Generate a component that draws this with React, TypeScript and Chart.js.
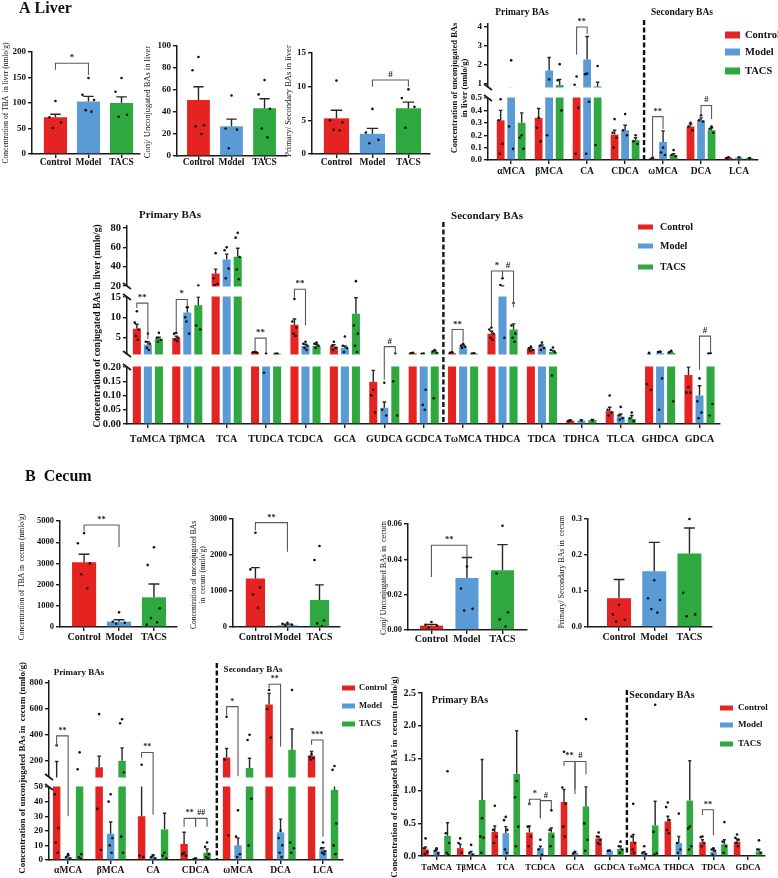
import React, { useEffect, useRef } from 'react';
import { Chart, registerables, LinearScale } from 'chart.js';

Chart.register(...registerables);

const SERIF = '"Liberation Serif", "Times New Roman", serif';
Chart.defaults.font.family = SERIF;

const PAGE_W = 778;
const PAGE_H = 878;
const RED = '#e52421';
const BLUE = '#5b9bd5';
const GREEN = '#2fa93f';
const GROUP_COLORS = [RED, BLUE, GREEN];
const GROUPS = ['Control', 'Model', 'TACS'];
const AXIS = '#1a1a1a';
const TICK_LEN = 4;
const Y_W = 28;
const DOT_R = 1.3;
const JITTER = [0, -0.26, 0.24, -0.12, 0.13, -0.3, 0.3];

// ---------- A: liver ----------
const liverTbaMean = [72, 103, 100];
const liverTbaSem = [6, 10, 12];
const liverTbaDots = [[104, 72, 62, 51], [149, 116, 106, 86, 83], [149, 122, 77, 73]];
const liverTbaTicks = [0, 50, 100, 150, 200];

const liverConjRatioMean = [51, 27, 43.5];
const liverConjRatioSem = [12, 6.5, 8.5];
const liverConjRatioDots = [[90, 78, 28, 27, 20], [55, 25, 24, 7], [69, 56, 43, 25, 17]];
const liverConjRatioTicks = [0, 20, 40, 60, 80, 100];

const liverPrimSecMean = [5.3, 3.0, 6.8];
const liverPrimSecSem = [1.2, 0.8, 0.9];
const liverPrimSecDots = [[10.9, 5.0, 4.7, 3.6, 3.5], [6.7, 3.2, 2.1, 1.6], [9.6, 8.3, 7.0, 3.9]];
const liverPrimSecTicks = [0, 5, 10, 15];

const liverUnconjCats = ['αMCA', 'βMCA', 'CA', 'CDCA', 'ωMCA', 'DCA', 'LCA'];
const liverUnconjControl = [0.32, 0.34, 0.7, 0.205, 0.01, 0.27, 0.02];
const liverUnconjModel = [0.7, 1.72, 2.3, 0.24, 0.145, 0.32, 0.02];
const liverUnconjTacs = [0.3, 0.95, 0.88, 0.16, 0.04, 0.24, 0.015];
const liverUnconjControlSem = [0.08, 0.075, 0.1, 0.035, 0.005, 0.02, 0.003];
const liverUnconjModelSem = [0.1, 0.68, 1.2, 0.04, 0.09, 0.02, 0.003];
const liverUnconjTacsSem = [0.08, 0.3, 0.22, 0.02, 0.01, 0.02, 0.003];
const liverUnconjControlDots = [[0.49, 0.32, 0.13, 0.05], [0.34, 0.26, 0.15], [1.4, 0.97, 0.42, 0.05], [0.33, 0.22, 0.18, 0.1], [0.02, 0.005], [0.3, 0.27, 0.24], [0.02, 0.015]];
const liverUnconjModelDots = [[2.25, 0.27, 0.09], [1.25, 0.2], [1.55, 1.52, 0.47, 0.05], [0.37, 0.24, 0.2], [0.1, 0.06, 0.04], [0.36, 0.32, 0.31], [0.02]];
const liverUnconjTacsDots = [[0.2, 0.18, 0.09], [2.05, 1.2, 0.4], [1.95, 0.12], [0.2, 0.15, 0.13], [0.08, 0.04, 0.03], [0.27, 0.25, 0.22], [0.015]];
const liverUnconjTicks = [0, 0.1, 0.2, 0.3, 0.4, 0.5, 1, 2, 3, 4];
const liverUnconjTickLabels = ['0.0', '0.1', '0.2', '0.3', '0.4', '0.5', '1', '2', '3', '4'];

const liverConjCats = ['TαMCA', 'TβMCA', 'TCA', 'TUDCA', 'TCDCA', 'GCA', 'GUDCA', 'GCDCA', 'TωMCA', 'THDCA', 'TDCA', 'TDHCA', 'TLCA', 'GHDCA', 'GDCA'];
const liverConjControl = [7.2, 4.9, 33, 1.4, 8.2, 2.8, 0.148, 1.15, 1.2, 6.0, 2.2, 0.012, 0.045, 0.9, 0.172];
const liverConjModel = [3.3, 11.2, 47.5, 0.6, 3.0, 2.5, 0.057, 0.8, 2.8, 17, 2.7, 0.012, 0.026, 1.2, 0.1];
const liverConjTacs = [4.7, 13, 50.3, 1.05, 3.0, 10.9, 0.5, 1.5, 1.1, 7.0, 1.5, 0.014, 0.018, 1.3, 0.5];
const liverConjControlSem = [1.1, 0.5, 4.5, 0.15, 1.4, 0.5, 0.04, 0.1, 0.1, 0.6, 0.3, 0.002, 0.014, 0.1, 0.03];
const liverConjModelSem = [0.7, 1.3, 5.5, 0.2, 0.4, 0.5, 0.02, 0.1, 0.5, 3, 0.5, 0.002, 0.009, 0.3, 0.034];
const liverConjTacsSem = [0.4, 2, 8.7, 0.05, 0.4, 3.9, 0.1, 0.3, 0.05, 1.4, 0.4, 0.002, 0.012, 0.2, 0.1];
const liverConjControlDots = [[11.5, 8.7, 7, 5.5, 4.5], [6.2, 6, 5, 4.5, 4.2], [54, 28, 22, 21], [1.5, 1.4, 1.3], [14.5, 9, 7.5, 6, 5.5], [4, 3, 2.5, 2], [0.12, 0.1, 0.04], [1.3, 1.2], [1.5, 1.3], [7.5, 7, 6, 5, 4.5], [2.8, 2.4, 2, 1.8], [0.012, 0.01], [0.1, 0.05, 0.04, 0.03], [1.3, 0.14, 0.12], [0.13, 0.11, 0.11]];
const liverConjModelDots = [[6, 4, 3.5, 2.5, 2], [12.5, 10, 6, 9], [60, 57, 38, 28], [1.1, 0.18], [4, 3.5, 3, 2.5, 2], [5.3, 3, 2.5, 1.5], [0.145, 0.05, 0.03], [1.1, 1.05, 0.12, 0.067, 0.05], [3.5, 3, 2.8, 2.5], [28, 21, 5], [3.8, 3, 2.5, 2], [0.012], [0.06, 0.03, 0.02, 0.015], [1.6, 1.5, 0.16, 0.05], [0.16, 0.08, 0.04, 0.02]];
const liverConjTacsDots = [[6.2, 5, 4.5, 4], [20.5, 8, 7], [75, 70, 50, 37, 27], [1.1, 1.05], [3.8, 3.5, 3, 2.5], [25, 8, 6, 3, 1.5], [1.1, 0.15, 0.03], [2.0, 1.6, 1.3, 0.09], [1.2, 1.1], [13.5, 8, 6, 5, 4], [2.6, 2, 1.5, 0.17], [0.012], [0.04, 0.02, 0.01], [1.8, 1.4, 0.08], [1.2, 1.1, 0.07, 0.03]];
const liverConjTicks = [0, 0.05, 0.1, 0.15, 0.2, 5, 10, 15, 20, 40, 60, 80];
const liverConjTickLabels = ['0.00', '0.05', '0.10', '0.15', '0.20', '5', '10', '15', '20', '40', '60', '80'];

// ---------- B: cecum ----------
const cecumTbaMean = [3050, 250, 1400];
const cecumTbaSem = [380, 90, 630];
const cecumTbaDots = [[4430, 3950, 3000, 2490, 1830], [690, 250, 200, 150], [3760, 2920, 880, 420, 220, 110]];
const cecumTbaTicks = [0, 1000, 2000, 3000, 4000, 5000];

const cecumUnconjTotalMean = [1350, 50, 750];
const cecumUnconjTotalSem = [300, 30, 420];
const cecumUnconjTotalDots = [[2620, 1600, 1100, 900, 530], [120, 90, 60, 40], [2250, 1860, 180, 100, 20]];
const cecumUnconjTotalTicks = [0, 1000, 2000, 3000];

const cecumConjRatioMean = [0.0025, 0.0295, 0.0338];
const cecumConjRatioSem = [0.0007, 0.0115, 0.0145];
const cecumConjRatioDots = [[0.0045, 0.003, 0.0025, 0.0015], [0.036, 0.0235, 0.012, 0.011], [0.059, 0.032, 0.01, 0.006, 0.002]];
const cecumConjRatioTicks = [0, 0.02, 0.04, 0.06];
const cecumConjRatioTickLabels = ['0.00', '0.02', '0.04', '0.06'];

const cecumPrimSecMean = [0.08, 0.155, 0.204];
const cecumPrimSecSem = [0.052, 0.08, 0.071];
const cecumPrimSecDots = [[0.062, 0.035, 0.02, 0.015], [0.13, 0.08, 0.075, 0.05, 0.04], [0.3, 0.095, 0.035, 0.03]];
const cecumPrimSecTicks = [0, 0.1, 0.2, 0.3];
const cecumPrimSecTickLabels = ['0.0', '0.1', '0.2', '0.3'];

const cecumUnconjCats = ['αMCA', 'βMCA', 'CA', 'CDCA', 'ωMCA', 'DCA', 'LCA'];
const cecumUnconjControl = [70, 150, 30, 11, 225, 635, 238];
const cecumUnconjModel = [2, 18, 2, 1, 10, 19, 7];
const cecumUnconjTacs = [55, 200, 21, 5, 144, 285, 48];
const cecumUnconjControlSem = [125, 85, 40, 8, 70, 85, 34];
const cecumUnconjModelSem = [1, 8, 1.5, 0.3, 5, 9, 1.5];
const cecumUnconjTacsSem = [15, 100, 11, 2.5, 76, 160, 20];
const cecumUnconjControlDots = [[320, 45, 22, 12, 5], [560, 35, 7], [170, 3, 2], [5, 4, 3], [540, 210, 17], [746, 600, 380], [250, 230, 220, 210]];
const cecumUnconjModelDots = [[4, 2, 1], [45, 40, 15, 10, 5], [3, 2, 1], [1, 0.5], [34, 16, 4, 2], [20, 15, 10, 5, 2], [12, 8, 6, 5, 4]];
const cecumUnconjTacsDots = [[265, 135, 4, 2, 1], [520, 490, 110, 16, 5], [5, 3, 1], [12, 9, 4, 2, 1], [400, 360, 42, 10], [746, 12, 8, 5], [160, 130, 25, 10, 4]];
const cecumUnconjTicks = [0, 10, 20, 30, 40, 50, 200, 400, 600, 800];

const cecumConjCats = ['TαMCA', 'TβMCA', 'TCA', 'TCDCA', 'GCA', 'GCDCA', 'TωMCA', 'THDCA', 'TDCA', 'GDCA'];
const cecumConjControl = [0.1, 0.12, 0.37, 0.36, 0.83, 0.27, 0.22, 0.53, 0.21, 0.22];
const cecumConjModel = [0.07, 0.045, 0.35, 0.12, 0.05, 0.08, 0.045, 0.2, 0.065, 0];
const cecumConjTacs = [0.31, 0.86, 1.26, 0.36, 0.76, 0.11, 0.47, 0.85, 0.18, 0.07];
const cecumConjControlSem = [0.04, 0.06, 0.09, 0.1, 0.19, 0.03, 0.11, 0.08, 0.04, 0.04];
const cecumConjModelSem = [0.03, 0.025, 0.1, 0.03, 0.02, 0.005, 0.02, 0.1, 0.05, 0];
const cecumConjTacsSem = [0.2, 0.62, 0.66, 0.07, 0.3, 0.04, 0.37, 0.61, 0.07, 0.035];
const cecumConjControlDots = [[0.27, 0.12, 0.06, 0.03], [0.27, 0.2, 0.05], [0.77, 0.4, 0.3, 0.2], [0.8, 0.45, 0.3, 0.15], [1.6, 1.05, 0.8, 0.45, 0.3], [0.36, 0.3, 0.25, 0.2, 0.18], [0.8, 0.3, 0.2, 0.1, 0.05], [0.82, 0.75, 0.55, 0.4, 0.35], [0.3, 0.29, 0.2, 0.15], [0.33, 0.28, 0.25, 0.2, 0.15]];
const cecumConjModelDots = [[0.12, 0.08, 0.04], [0.17, 0.05, 0.02], [0.6, 0.55, 0.4, 0.1, 0.05], [0.25, 0.1, 0.02], [0.06, 0.04], [0.085, 0.08], [0.15, 0.05, 0.03], [0.65, 0.2, 0.1, 0.05], [0.12, 0.1, 0.08, 0.02], []];
const cecumConjTacsDots = [[1.3, 0.35, 0.2, 0.05, 0.02], [0.58, 0.3, 0.28, 0.05], [1.15, 0.9, 0.45, 0.15], [0.7, 0.4, 0.3, 0.15], [2.1, 0.5, 0.25, 0.08], [0.22, 0.15, 0.1, 0.05], [2.32, 0.37, 0.04, 0.02], [0.45, 0.42, 0.15, 0.1], [0.52, 0.22, 0.15, 0.05], [0.24, 0.1, 0.05]];
const cecumConjTicks = [0, 0.5, 1, 1.5, 2, 2.5];
const cecumConjTickLabels = ['0.0', '0.5', '1.0', '1.5', '2.0', '2.5'];

// ---------- panel description ----------
type Seg = { v0: number; v1: number; p0: number; p1: number };
type Bracket = { a: [number, number]; b: [number, number]; top: number; legA: number; legB: number; text: string };
type Legend = { x: number; ys: number[]; w: number; h: number; textX: number; size: number };
type Label = { text: string; x: number; y: number; size: number; align?: CanvasTextAlign };

interface PanelSpec {
  id: string;
  box: { left: number; right: number; top: number; bottom: number };
  xMin: number;
  xMax: number;
  cats: string[];
  means: number[][];
  sems: number[][];
  dots: number[][][];
  colors: (string | string[])[];
  catPct: number;
  barPct: number;
  segs: Seg[];
  ticks: number[];
  tickLabels: string[];
  tickSize: number;
  xSize: number;
  xLabelY: number;
  yTitle: string[];
  yTitleX: number[];
  yTitleY: number;
  yTitleSize: number;
  yTitleWeight: string;
  brackets: Bracket[];
  bracketSize: number;
  dashX?: number;
  dashTop?: number;
  legend?: Legend;
  labels?: Label[];
}

const single = (mean: number[], sem: number[], dots: number[][]) => ({
  cats: GROUPS,
  means: [mean],
  sems: [sem],
  dots: [dots],
  colors: [GROUP_COLORS],
  barPct: 1,
});

const PANELS: PanelSpec[] = [
  {
    id: 'liverTba',
    box: { left: 32, right: 140, top: 52, bottom: 154 },
    xMin: -0.71, xMax: 2.56,
    ...single(liverTbaMean, liverTbaSem, liverTbaDots),
    catPct: 0.7,
    segs: [{ v0: 0, v1: 200, p0: 154, p1: 52 }],
    ticks: liverTbaTicks, tickLabels: liverTbaTicks.map(String),
    tickSize: 9, xSize: 9.5, xLabelY: 163,
    yTitle: ['Concentration of TBA  in liver (nmlo/g)'], yTitleX: [6], yTitleY: 103, yTitleSize: 7.5, yTitleWeight: 'normal',
    brackets: [{ a: [0, 0], b: [0, 1], top: 178, legA: 165, legB: 155, text: '*' }], bracketSize: 9,
    labels: [{ text: 'A Liver', x: 19, y: 9, size: 16, align: 'left' }],
  },
  {
    id: 'liverConjRatio',
    box: { left: 177, right: 287, top: 46, bottom: 156 },
    xMin: -0.65, xMax: 2.68,
    ...single(liverConjRatioMean, liverConjRatioSem, liverConjRatioDots),
    catPct: 0.69,
    segs: [{ v0: 0, v1: 100, p0: 156, p1: 46 }],
    ticks: liverConjRatioTicks, tickLabels: liverConjRatioTicks.map(String),
    tickSize: 9, xSize: 9.5, xLabelY: 163,
    yTitle: ['Conj/ Unconjugated BAs in liver'], yTitleX: [148], yTitleY: 102, yTitleSize: 8.5, yTitleWeight: 'normal',
    brackets: [], bracketSize: 9,
  },
  {
    id: 'liverPrimSec',
    box: { left: 312, right: 430, top: 53, bottom: 154 },
    xMin: -0.68, xMax: 2.6,
    ...single(liverPrimSecMean, liverPrimSecSem, liverPrimSecDots),
    catPct: 0.7,
    segs: [{ v0: 0, v1: 15, p0: 154, p1: 53 }],
    ticks: liverPrimSecTicks, tickLabels: liverPrimSecTicks.map(String),
    tickSize: 9, xSize: 9.5, xLabelY: 163,
    yTitle: ['Primary/ Secondary BAs in liver'], yTitleX: [289], yTitleY: 101, yTitleSize: 8.5, yTitleWeight: 'normal',
    brackets: [{ a: [0, 1], b: [0, 2], top: 11, legA: 10, legB: 10, text: '#' }], bracketSize: 9,
  },
  {
    id: 'liverUnconj',
    box: { left: 488, right: 758, top: 24, bottom: 160 },
    xMin: -0.61, xMax: 6.5,
    cats: liverUnconjCats,
    means: [liverUnconjControl, liverUnconjModel, liverUnconjTacs],
    sems: [liverUnconjControlSem, liverUnconjModelSem, liverUnconjTacsSem],
    dots: [liverUnconjControlDots, liverUnconjModelDots, liverUnconjTacsDots],
    colors: GROUP_COLORS,
    catPct: 0.83, barPct: 0.74,
    segs: [{ v0: 0, v1: 0.5, p0: 160, p1: 98 }, { v0: 0.85, v1: 4, p0: 87, p1: 27 }],
    ticks: liverUnconjTicks, tickLabels: liverUnconjTickLabels,
    tickSize: 9, xSize: 9.5, xLabelY: 172,
    yTitle: ['Concentration of unconjugated BAs', 'in liver (nmlo/g)'], yTitleX: [455, 465], yTitleY: 88, yTitleSize: 8.5, yTitleWeight: 'bold',
    brackets: [
      { a: [0, 2], b: [1, 2], top: 4.0, legA: 2.55, legB: 3.65, text: '**' },
      { a: [0, 4], b: [1, 4], top: 0.35, legA: 0.027, legB: 0.25, text: '**' },
      { a: [1, 5], b: [2, 5], top: 0.44, legA: 0.36, legB: 0.33, text: '#' },
    ],
    bracketSize: 8.5,
    dashX: 3.5, dashTop: 20,
    legend: { x: 725, ys: [35, 52, 71], w: 15, h: 7, textX: 745, size: 10.5 },
    labels: [
      { text: 'Primary BAs', x: 522, y: 13, size: 9.5 },
      { text: 'Secondary BAs', x: 682, y: 13, size: 9.5 },
    ],
  },
  {
    id: 'liverConj',
    box: { left: 127, right: 720, top: 226, bottom: 424 },
    xMin: -0.53, xMax: 14.52,
    cats: liverConjCats,
    means: [liverConjControl, liverConjModel, liverConjTacs],
    sems: [liverConjControlSem, liverConjModelSem, liverConjTacsSem],
    dots: [liverConjControlDots, liverConjModelDots, liverConjTacsDots],
    colors: GROUP_COLORS,
    catPct: 0.84, barPct: 0.73,
    segs: [
      { v0: 0, v1: 0.2, p0: 424, p1: 367 },
      { v0: 1, v1: 15, p0: 354, p1: 297 },
      { v0: 20, v1: 80, p0: 286, p1: 228 },
    ],
    ticks: liverConjTicks, tickLabels: liverConjTickLabels,
    tickSize: 10.5, xSize: 10, xLabelY: 439,
    yTitle: ['Concentration of conjugated BAs in liver (nmlo/g)'], yTitleX: [98], yTitleY: 326, yTitleSize: 9.5, yTitleWeight: 'bold',
    brackets: [
      { a: [0, 0], b: [1, 0], top: 13.5, legA: 12.3, legB: 4.6, text: '**' },
      { a: [0, 1], b: [1, 1], top: 14.4, legA: 6.5, legB: 12.8, text: '*' },
      { a: [0, 3], b: [1, 3], top: 4.9, legA: 1.7, legB: 1.3, text: '**' },
      { a: [0, 4], b: [1, 4], top: 18.5, legA: 14.8, legB: 8, text: '**' },
      { a: [1, 6], b: [2, 6], top: 2.8, legA: 0.155, legB: 1.1, text: '#' },
      { a: [0, 8], b: [1, 8], top: 7.0, legA: 1.8, legB: 4.0, text: '**' },
      { a: [0, 9], b: [1, 9], top: 35.5, legA: 7.8, legB: 29, text: '*' },
      { a: [1, 9], b: [2, 9], top: 35.5, legA: 29, legB: 12.5, text: '#' },
      { a: [1, 14], b: [2, 14], top: 5.4, legA: 0.19, legB: 1.5, text: '#' },
    ],
    bracketSize: 9,
    dashX: 7.5, dashTop: 222,
    legend: { x: 638, ys: [227, 246, 267], w: 15, h: 5, textX: 660, size: 10 },
    labels: [
      { text: 'Primary BAs', x: 170, y: 215, size: 11 },
      { text: 'Secondary BAs', x: 487, y: 216, size: 11 },
    ],
  },
  {
    id: 'cecumTba',
    box: { left: 60, right: 177, top: 521, bottom: 627 },
    xMin: -0.69, xMax: 2.66,
    ...single(cecumTbaMean, cecumTbaSem, cecumTbaDots),
    catPct: 0.69,
    segs: [{ v0: 0, v1: 5000, p0: 627, p1: 521 }],
    ticks: cecumTbaTicks, tickLabels: cecumTbaTicks.map(String),
    tickSize: 8.5, xSize: 10, xLabelY: 637,
    yTitle: ['Concentration of TBA in  cecum (nmlo/g)'], yTitleX: [22], yTitleY: 577, yTitleSize: 7.5, yTitleWeight: 'normal',
    brackets: [{ a: [0, 0], b: [0, 1], top: 4810, legA: 4530, legB: 3770, text: '**' }], bracketSize: 8.5,
    labels: [{ text: 'B  Cecum', x: 25, y: 477, size: 16, align: 'left' }],
  },
  {
    id: 'cecumUnconjTotal',
    box: { left: 233, right: 340, top: 519, bottom: 627 },
    xMin: -0.7, xMax: 2.64,
    ...single(cecumUnconjTotalMean, cecumUnconjTotalSem, cecumUnconjTotalDots),
    catPct: 0.6,
    segs: [{ v0: 0, v1: 3000, p0: 627, p1: 519 }],
    ticks: cecumUnconjTotalTicks, tickLabels: cecumUnconjTotalTicks.map(String),
    tickSize: 8.5, xSize: 10, xLabelY: 637,
    yTitle: ['Concentration of unconjugated BAs', 'in  cecum (nmlo/g)'], yTitleX: [194, 203], yTitleY: 575, yTitleSize: 7.5, yTitleWeight: 'normal',
    brackets: [{ a: [0, 0], b: [0, 1], top: 2900, legA: 2690, legB: 2090, text: '**' }], bracketSize: 8.5,
  },
  {
    id: 'cecumConjRatio',
    box: { left: 408, right: 527, top: 524, bottom: 630 },
    xMin: -0.66, xMax: 2.69,
    ...single(cecumConjRatioMean, cecumConjRatioSem, cecumConjRatioDots),
    catPct: 0.65,
    segs: [{ v0: 0, v1: 0.06, p0: 630, p1: 524 }],
    ticks: cecumConjRatioTicks, tickLabels: cecumConjRatioTickLabels,
    tickSize: 8.5, xSize: 10, xLabelY: 639,
    yTitle: ['Conj/ Unconjugated BAs in  cecum'], yTitleX: [384], yTitleY: 578, yTitleSize: 8, yTitleWeight: 'normal',
    brackets: [{ a: [0, 0], b: [0, 1], top: 0.048, legA: 0.03, legB: 0.041, text: '**' }], bracketSize: 8.5,
  },
  {
    id: 'cecumPrimSec',
    box: { left: 588, right: 712, top: 519, bottom: 627 },
    xMin: -0.88, xMax: 2.64,
    ...single(cecumPrimSecMean, cecumPrimSecSem, cecumPrimSecDots),
    catPct: 0.68,
    segs: [{ v0: 0, v1: 0.3, p0: 627, p1: 519 }],
    ticks: cecumPrimSecTicks, tickLabels: cecumPrimSecTickLabels,
    tickSize: 8.5, xSize: 10, xLabelY: 637,
    yTitle: ['Primary/ Secondary BAs in  cecum'], yTitleX: [562], yTitleY: 572, yTitleSize: 8, yTitleWeight: 'normal',
    brackets: [], bracketSize: 8.5,
  },
  {
    id: 'cecumUnconj',
    box: { left: 49, right: 343, top: 681, bottom: 860 },
    xMin: -0.45, xMax: 6.47,
    cats: cecumUnconjCats,
    means: [cecumUnconjControl, cecumUnconjModel, cecumUnconjTacs],
    sems: [cecumUnconjControlSem, cecumUnconjModelSem, cecumUnconjTacsSem],
    dots: [cecumUnconjControlDots, cecumUnconjModelDots, cecumUnconjTacsDots],
    colors: GROUP_COLORS,
    catPct: 0.81, barPct: 0.65,
    segs: [{ v0: 0, v1: 50, p0: 860, p1: 787 }, { v0: 75, v1: 800, p0: 777, p1: 683 }],
    ticks: cecumUnconjTicks, tickLabels: cecumUnconjTicks.map(String),
    tickSize: 9, xSize: 9.5, xLabelY: 871,
    yTitle: ['Concentration of unconjugated BAs in  cecum (nmlo/g)'], yTitleX: [23], yTitleY: 768, yTitleSize: 9, yTitleWeight: 'bold',
    brackets: [
      { a: [0, 0], b: [1, 0], top: 392, legA: 310, legB: 30, text: '**' },
      { a: [0, 2], b: [1, 2], top: 264, legA: 223, legB: 31, text: '**' },
      { a: [0, 3], b: [1, 3], top: 28.5, legA: 22.8, legB: 22.8, text: '**' },
      { a: [1, 3], b: [2, 3], top: 28.5, legA: 22.8, legB: 22.8, text: '##' },
      { a: [0, 4], b: [1, 4], top: 618, legA: 554, legB: 80, text: '*' },
      { a: [0, 5], b: [1, 5], top: 790, legA: 760, legB: 310, text: '**' },
      { a: [0, 6], b: [1, 6], top: 360, legA: 323, legB: 16, text: '***' },
    ],
    bracketSize: 8,
    dashX: 3.5, dashTop: 663,
    legend: { x: 342, ys: [688, 706, 724], w: 13, h: 5, textX: 359, size: 8.5 },
    labels: [
      { text: 'Primary BAs', x: 79, y: 673, size: 9 },
      { text: 'Secondary BAs', x: 253, y: 670, size: 9 },
    ],
  },
  {
    id: 'cecumConj',
    box: { left: 422, right: 765, top: 693, bottom: 856 },
    xMin: -0.42, xMax: 9.49,
    cats: cecumConjCats,
    means: [cecumConjControl, cecumConjModel, cecumConjTacs],
    sems: [cecumConjControlSem, cecumConjModelSem, cecumConjTacsSem],
    dots: [cecumConjControlDots, cecumConjModelDots, cecumConjTacsDots],
    colors: GROUP_COLORS,
    catPct: 0.95, barPct: 0.6,
    segs: [{ v0: 0, v1: 2.5, p0: 856, p1: 693 }],
    ticks: cecumConjTicks, tickLabels: cecumConjTickLabels,
    tickSize: 10, xSize: 8.5, xLabelY: 868,
    yTitle: ['Concentration of conjugated BAs in  cecum (nmlo/g)'], yTitleX: [395], yTitleY: 777, yTitleSize: 9, yTitleWeight: 'bold',
    brackets: [
      { a: [0, 3], b: [1, 3], top: 0.87, legA: 0.78, legB: 0.58, text: '*' },
      { a: [1, 3], b: [2, 3], top: 0.85, legA: 0.58, legB: 0.72, text: '#' },
      { a: [0, 4], b: [1, 4], top: 1.45, legA: 1.38, legB: 1.02, text: '**' },
      { a: [1, 4], b: [2, 4], top: 1.45, legA: 0.95, legB: 1.25, text: '#' },
      { a: [0, 8], b: [1, 8], top: 0.71, legA: 0.63, legB: 0.32, text: '**' },
    ],
    bracketSize: 8.5,
    dashX: 5.5, dashTop: 690,
    legend: { x: 720, ys: [708, 725, 744], w: 13, h: 5, textX: 738, size: 9 },
    labels: [
      { text: 'Primary BAs', x: 460, y: 700, size: 10 },
      { text: 'Secondary BAs', x: 662, y: 695, size: 10 },
    ],
  },
];

// ---------- broken (piecewise) value axis ----------
type FracSeg = { v0: number; v1: number; f0: number; f1: number };

function segFrac(segs: FracSeg[], v: number): number {
  const lin = (s: FracSeg) => s.f0 + ((v - s.v0) * (s.f1 - s.f0)) / (s.v1 - s.v0);
  if (v <= segs[0].v0) return lin(segs[0]);
  for (let i = 0; i < segs.length; i++) {
    const s = segs[i];
    if (v <= s.v1) {
      if (v >= s.v0) return lin(s);
      const p = segs[i - 1];
      return p.f1 + ((v - p.v1) * (s.f0 - p.f1)) / (s.v0 - p.v1);
    }
  }
  return lin(segs[segs.length - 1]);
}

function fracValue(segs: FracSeg[], f: number): number {
  for (let i = 0; i < segs.length; i++) {
    const s = segs[i];
    if (f <= s.f1 || i === segs.length - 1) {
      return s.v0 + ((f - s.f0) * (s.v1 - s.v0)) / (s.f1 - s.f0);
    }
  }
  return 0;
}

const registeredScales = new Set<string>();

function ensureScale(spec: PanelSpec): string {
  const id = 'broken-' + spec.id;
  if (registeredScales.has(id)) return id;
  registeredScales.add(id);
  const h = spec.box.bottom - spec.box.top;
  const fs: FracSeg[] = spec.segs.map((s) => ({
    v0: s.v0,
    v1: s.v1,
    f0: (spec.box.bottom - s.p0) / h,
    f1: (spec.box.bottom - s.p1) / h,
  }));
  class BrokenScale extends LinearScale {
    static id = id;
    getPixelForValue(value: number) {
      if (value === null || value === undefined || isNaN(value)) return NaN;
      return this.bottom - segFrac(fs, value) * (this.bottom - this.top);
    }
    getValueForPixel(pixel: number) {
      return fracValue(fs, (this.bottom - pixel) / (this.bottom - this.top));
    }
  }
  Chart.register(BrokenScale as any);
  return id;
}

// ---------- annotations drawn on top of the bars ----------
function marksPlugin(spec: PanelSpec) {
  return {
    id: 'marks-' + spec.id,
    afterDatasetsDraw(chart: any) {
      const ctx: CanvasRenderingContext2D = chart.ctx;
      const area = chart.chartArea;
      const y = chart.scales.y;
      const barAt = (d: number, c: number) => chart.getDatasetMeta(d).data[c];

      ctx.save();
      ctx.beginPath();
      ctx.rect(area.left, area.top - 3, area.right - area.left, area.bottom - area.top + 3);
      ctx.clip();
      // error bars (mean + SEM)
      ctx.strokeStyle = '#262626';
      ctx.lineWidth = 1.4;
      spec.means.forEach((row, d) =>
        row.forEach((m, c) => {
          const s = spec.sems[d][c];
          if (!s) return;
          const el = barAt(d, c);
          const y0 = y.getPixelForValue(m);
          const y1 = y.getPixelForValue(m + s);
          const cap = Math.max(3, el.width * 0.45) / 2;
          ctx.beginPath();
          ctx.moveTo(el.x, y0);
          ctx.lineTo(el.x, y1);
          ctx.moveTo(el.x - cap, y1);
          ctx.lineTo(el.x + cap, y1);
          ctx.stroke();
        })
      );
      // individual animals
      ctx.fillStyle = '#111';
      spec.dots.forEach((rows, d) =>
        rows.forEach((vals, c) => {
          const el = barAt(d, c);
          vals.forEach((v, k) => {
            const px = el.x + JITTER[k % JITTER.length] * el.width;
            ctx.beginPath();
            ctx.arc(px, y.getPixelForValue(v), DOT_R, 0, Math.PI * 2);
            ctx.fill();
          });
        })
      );
      ctx.restore();

      // axis breaks
      for (let i = 0; i + 1 < spec.segs.length; i++) {
        const lowTop = y.getPixelForValue(spec.segs[i].v1);
        const upBottom = y.getPixelForValue(spec.segs[i + 1].v0);
        ctx.fillStyle = '#fff';
        ctx.fillRect(area.left - 3, upBottom + 0.5, area.right - area.left + 6, lowTop - upBottom - 1);
        ctx.strokeStyle = AXIS;
        ctx.lineWidth = 1.6;
        [lowTop, upBottom].forEach((py: number) => {
          ctx.beginPath();
          ctx.moveTo(area.left - 4, py - 3);
          ctx.lineTo(area.left + 4, py + 3);
          ctx.stroke();
        });
      }

      // primary / secondary separator
      if (spec.dashX !== undefined && spec.dashTop !== undefined) {
        const x = chart.scales.x.getPixelForValue(spec.dashX);
        ctx.save();
        ctx.setLineDash([5, 2.5]);
        ctx.lineWidth = 2.4;
        ctx.strokeStyle = '#111';
        ctx.beginPath();
        ctx.moveTo(x, spec.dashTop);
        ctx.lineTo(x, area.bottom);
        ctx.stroke();
        ctx.restore();
      }

      // significance brackets
      ctx.strokeStyle = '#5a5a5a';
      ctx.lineWidth = 1.1;
      ctx.fillStyle = '#222';
      ctx.font = `bold ${spec.bracketSize}px ${SERIF}`;
      ctx.textAlign = 'center';
      ctx.textBaseline = 'alphabetic';
      spec.brackets.forEach((b) => {
        const xa = barAt(b.a[0], b.a[1]).x;
        const xb = barAt(b.b[0], b.b[1]).x;
        const yt = y.getPixelForValue(b.top);
        ctx.beginPath();
        ctx.moveTo(xa, y.getPixelForValue(b.legA));
        ctx.lineTo(xa, yt);
        ctx.lineTo(xb, yt);
        ctx.lineTo(xb, y.getPixelForValue(b.legB));
        ctx.stroke();
        ctx.fillText(b.text, (xa + xb) / 2, yt - 3);
      });

      // legend
      if (spec.legend) {
        const L = spec.legend;
        ctx.font = `bold ${L.size}px ${SERIF}`;
        ctx.textAlign = 'left';
        ctx.textBaseline = 'middle';
        GROUPS.forEach((g, i) => {
          ctx.fillStyle = GROUP_COLORS[i];
          ctx.fillRect(L.x, L.ys[i] - L.h / 2, L.w, L.h);
          ctx.fillStyle = '#111';
          ctx.fillText(g, L.textX, L.ys[i]);
        });
      }

      // headings
      (spec.labels || []).forEach((t) => {
        ctx.font = `bold ${t.size}px ${SERIF}`;
        ctx.fillStyle = '#111';
        ctx.textAlign = t.align || 'center';
        ctx.textBaseline = 'middle';
        ctx.fillText(t.text, t.x, t.y);
      });

      // value-axis title
      spec.yTitle.forEach((t, i) => {
        ctx.save();
        ctx.translate(spec.yTitleX[i], spec.yTitleY);
        ctx.rotate(-Math.PI / 2);
        ctx.font = `${spec.yTitleWeight} ${spec.yTitleSize}px ${SERIF}`;
        ctx.fillStyle = '#111';
        ctx.textAlign = 'center';
        ctx.textBaseline = 'middle';
        ctx.fillText(t, 0, 0);
        ctx.restore();
      });
    },
  };
}

function buildConfig(spec: PanelSpec) {
  const scaleType = ensureScale(spec);
  const { box } = spec;
  const xPad = spec.xLabelY - box.bottom - TICK_LEN - spec.xSize * 0.6;
  // room below the plot for category labels (labels are clipped to this band)
  const xH = Math.min(PAGE_H - box.bottom, spec.xLabelY - box.bottom + spec.xSize);
  const lastSeg = spec.segs[spec.segs.length - 1];
  return {
    type: 'bar',
    data: {
      datasets: spec.means.map((row, d) => ({
        data: row.map((v, c) => ({ x: c, y: v })),
        backgroundColor: spec.colors[d],
        borderWidth: 0,
        categoryPercentage: spec.catPct,
        barPercentage: spec.barPct,
      })),
    },
    options: {
      responsive: false,
      animation: false,
      devicePixelRatio: 1,
      events: [],
      layout: {
        autoPadding: false,
        padding: {
          left: box.left - Y_W,
          top: box.top,
          right: PAGE_W - box.right,
          bottom: PAGE_H - box.bottom - xH,
        },
      },
      plugins: { legend: { display: false }, tooltip: { enabled: false } },
      scales: {
        x: {
          type: 'linear',
          min: spec.xMin,
          max: spec.xMax,
          bounds: 'data',
          offset: false,
          afterBuildTicks: (s: any) => {
            s.ticks = spec.cats.map((_, i) => ({ value: i }));
          },
          afterFit: (s: any) => {
            s.height = xH;
            s.paddingLeft = 0;
            s.paddingRight = 0;
          },
          ticks: {
            autoSkip: false,
            maxRotation: 0,
            minRotation: 0,
            padding: xPad,
            color: '#111',
            font: { family: SERIF, size: spec.xSize, weight: 'bold' },
            callback: (_v: number, i: number) => spec.cats[i],
          },
          grid: { display: true, drawOnChartArea: false, drawTicks: true, tickLength: TICK_LEN, color: AXIS, lineWidth: 1.4, offset: false },
          border: { display: true, color: AXIS, width: 1.5 },
        },
        y: {
          type: scaleType,
          min: 0,
          max: lastSeg.v1,
          bounds: 'data',
          afterBuildTicks: (s: any) => {
            s.ticks = spec.ticks.map((v) => ({ value: v }));
          },
          afterFit: (s: any) => {
            s.width = Y_W;
            s.paddingTop = 0;
            s.paddingBottom = 0;
          },
          ticks: {
            autoSkip: false,
            padding: 2,
            color: '#111',
            font: { family: SERIF, size: spec.tickSize, weight: 'bold' },
            callback: (_v: number, i: number) => spec.tickLabels[i],
          },
          grid: { display: true, drawOnChartArea: false, drawTicks: true, tickLength: TICK_LEN, color: AXIS, lineWidth: 1.4 },
          border: { display: true, color: AXIS, width: 1.5 },
        },
      },
    },
    plugins: [marksPlugin(spec)],
  };
}

function Panel({ spec }: { spec: PanelSpec }) {
  const ref = useRef<HTMLCanvasElement | null>(null);
  useEffect(() => {
    if (!ref.current) return;
    const chart = new Chart(ref.current, buildConfig(spec) as any);
    return () => chart.destroy();
  }, [spec]);
  return (
    <canvas
      ref={ref}
      width={PAGE_W}
      height={PAGE_H}
      style={{ position: 'absolute', left: 0, top: 0, width: PAGE_W, height: PAGE_H }}
    />
  );
}

export default function App() {
  return (
    <div style={{ position: 'absolute', left: 0, top: 0, width: PAGE_W, height: PAGE_H, background: '#fff', overflow: 'hidden' }}>
      {PANELS.map((p) => (
        <Panel key={p.id} spec={p} />
      ))}
    </div>
  );
}
